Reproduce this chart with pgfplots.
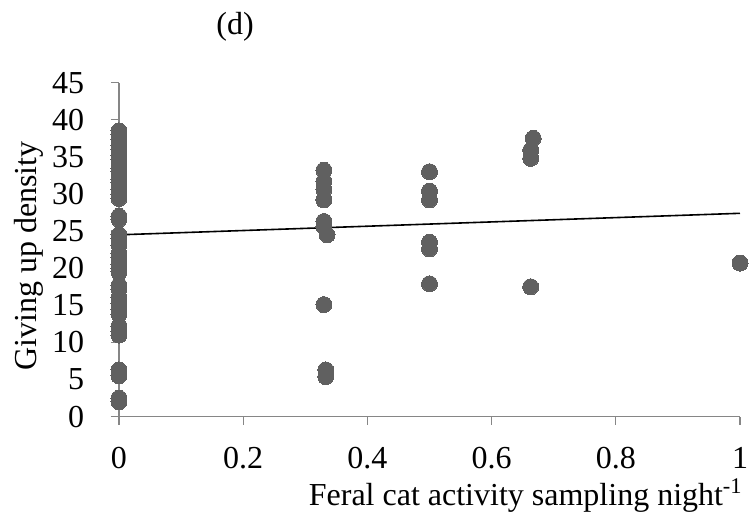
\documentclass[border=0pt]{standalone}
\usepackage{fontspec}
\setmainfont{Liberation Serif}
\usepackage{pgfplots}
\pgfplotsset{compat=1.18}
\definecolor{dotc}{RGB}{96,96,96}
\definecolor{axc}{RGB}{134,134,134}
\newcommand\ff{\fontsize{24}{28}\selectfont}
\begin{document}
\begin{tikzpicture}
\path[use as bounding box] (-89.25pt,-73.7pt) rectangle (476.25pt,312.5pt);
\begin{axis}[
  at={(0,0)}, anchor=south west,
  scale only axis, width=465.75pt, height=250.5pt,
  xmin=0, xmax=1, ymin=0, ymax=45,
  axis lines*=left,
  axis line style={axc, line width=1pt},
  tick style={axc, line width=1pt},
  tick align=outside, major tick length=6pt,
  xtick={0,0.2,0.4,0.6,0.8,1},
  xticklabels={0,0.2,0.4,0.6,0.8,1},
  ytick={0,5,...,45},
  /pgf/number format/assume math mode=true,
  tick label style={font=\ff, text=black},
  yticklabel style={inner sep=0pt, xshift=-20pt},
  xticklabel style={inner sep=0pt, yshift=-17pt},
  clip=false,
  every axis title shift=0pt,
  ylabel={Giving up density},
  ylabel style={font=\ff, at={(axis description cs:-0.133,0.481)}, anchor=base},
  xlabel={Feral cat activity sampling night\textsuperscript{-1}},
  xlabel style={font=\ff, at={(axis description cs:1.0113,-0.267)}, anchor=base east},
  title={(d)},
  title style={font=\ff, at={(axis description cs:0.187,1.143)}, anchor=base},
]
\addplot[only marks, color=dotc, mark=*, mark size=6pt, mark options={draw=dotc, fill=dotc, line width=0pt}] coordinates {
(0,38.5) (0,38.0) (0,37.3) (0,36.5) (0,36.0) (0,35.2) (0,34.6) (0,33.5) (0,33.0)
(0,32.0) (0,31.5) (0,30.6) (0,30.0) (0,29.4) (0,27.0) (0,26.6) (0,24.5) (0,24.0)
(0,23.1) (0,22.0) (0,21.4) (0,20.5) (0,20.0) (0,19.5) (0,17.7) (0,17.2) (0,16.1)
(0,15.3) (0,14.4) (0,13.8) (0,12.2) (0,11.5) (0,11.0) (0,6.3) (0,5.5) (0,2.5) (0,2.0)
(0.33,33.2) (0.33,31.7) (0.33,30.6) (0.33,29.2) (0.33,26.3) (0.33,25.6) (0.335,24.5)
(0.33,15.1) (0.333,6.3) (0.333,5.4)
(0.5,33.0) (0.5,30.4) (0.5,29.2) (0.5,23.5) (0.5,22.6) (0.5,17.9)
(0.663,35.9) (0.663,34.8) (0.667,37.5) (0.663,17.5)
(1,20.7)
};
\addplot[black, line width=1.2pt] coordinates {(0,24.5) (1,27.4)};
\end{axis}
\end{tikzpicture}
\end{document}
